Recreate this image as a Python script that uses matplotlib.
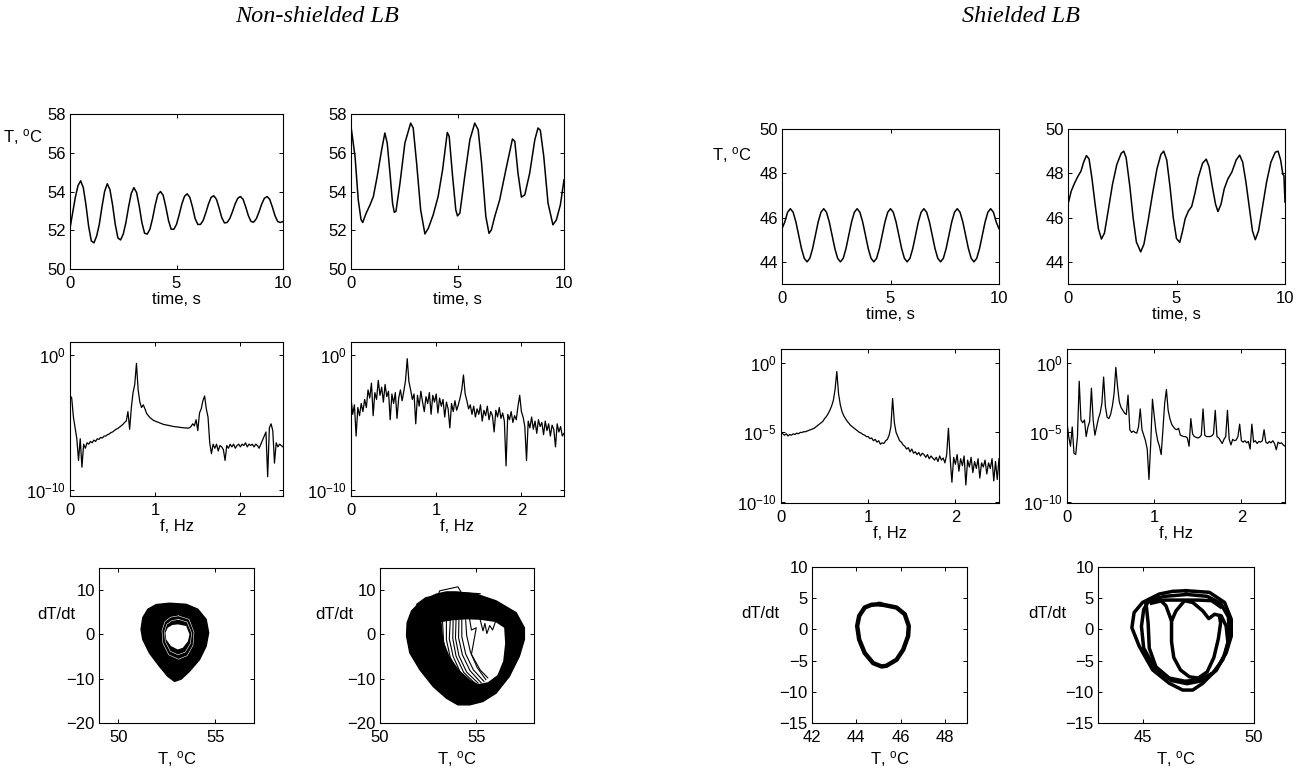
import numpy as np
import matplotlib
matplotlib.use("Agg")
import matplotlib.pyplot as plt
from matplotlib.ticker import NullLocator

plt.rcParams['font.family'] = ['Liberation Sans', 'DejaVu Sans']
plt.rcParams['mathtext.fontset'] = 'custom'
plt.rcParams['mathtext.rm'] = 'Liberation Sans'
plt.rcParams['mathtext.it'] = 'Liberation Sans:italic'
plt.rcParams['mathtext.bf'] = 'Liberation Sans:bold'
plt.rcParams['font.size'] = 12

# ---- time series (T, degC) ----
# non-shielded, periodic decaying, sampled every 0.125 s
T1 = [52.1, 52.9, 53.7, 54.3, 54.55, 54.2, 53.3, 52.2, 51.45, 51.35,
      51.7, 52.3, 53.2, 54.0, 54.4, 54.1, 53.3, 52.3, 51.6, 51.5,
      51.8, 52.4, 53.2, 53.9, 54.2, 53.95, 53.25, 52.4, 51.85, 51.8,
      52.05, 52.6, 53.3, 53.85, 54.0, 53.8, 53.2, 52.5, 52.05, 52.05,
      52.3, 52.8, 53.35, 53.75, 53.88, 53.7, 53.2, 52.6, 52.3, 52.3,
      52.5, 52.9, 53.35, 53.7, 53.78, 53.6, 53.15, 52.65, 52.38, 52.4,
      52.6, 52.95, 53.35, 53.65, 53.74, 53.6, 53.2, 52.75, 52.45, 52.42,
      52.6, 52.95, 53.35, 53.65, 53.74, 53.6, 53.2, 52.75, 52.45, 52.4,
      52.45]
# non-shielded, irregular
t2 = [0, 0.19, 0.34, 0.47, 0.55, 0.70, 0.89, 1.05, 1.23, 1.44,
      1.59, 1.70, 1.83, 1.95, 2.03, 2.11, 2.30, 2.53, 2.80, 2.92,
      3.08, 3.27, 3.47, 3.63, 3.86, 4.09, 4.30, 4.52, 4.61, 4.77,
      4.92, 5.0, 5.11, 5.34, 5.58, 5.81, 5.97, 6.13, 6.33, 6.48,
      6.59, 6.75, 6.98, 7.27, 7.58, 7.69, 7.84, 8.0, 8.16, 8.39,
      8.63, 8.78, 8.89, 9.05, 9.25, 9.48, 9.64, 9.83, 10.0]
T2 = [57.36, 55.8, 53.57, 52.55, 52.4, 52.85, 53.3, 53.74, 54.78, 56.16,
      57.02, 56.5, 54.95, 53.4, 52.93, 52.97, 54.43, 56.5, 57.53, 57.28,
      55.47, 53.05, 51.81, 52.1, 52.8, 53.74, 55.12, 57.05, 56.84, 54.78,
      53.05, 52.74, 52.88, 54.78, 56.67, 57.53, 57.19, 55.47, 52.71, 51.84,
      52.02, 52.71, 53.57, 55.12, 56.71, 56.59, 54.95, 53.71, 53.83, 54.95,
      56.67, 57.28, 57.16, 55.81, 53.4, 52.28, 52.53, 53.31, 54.6]
# shielded, periodic, 79 samples over 10 s
T3 = [45.5, 45.8, 46.24, 46.4, 46.24, 45.8, 45.2, 44.6, 44.16, 44.0, 44.16, 44.6,
      45.2, 45.8, 46.24, 46.4, 46.24, 45.8, 45.2, 44.6, 44.16, 44.0, 44.16, 44.6,
      45.2, 45.8, 46.24, 46.4, 46.24, 45.8, 45.2, 44.6, 44.16, 44.0, 44.16, 44.6,
      45.2, 45.8, 46.24, 46.4, 46.24, 45.8, 45.2, 44.6, 44.16, 44.0, 44.16, 44.6,
      45.2, 45.8, 46.24, 46.4, 46.24, 45.8, 45.2, 44.6, 44.16, 44.0, 44.16, 44.6,
      45.2, 45.8, 46.24, 46.4, 46.24, 45.8, 45.2, 44.6, 44.16, 44.0, 44.16, 44.6,
      45.2, 45.8, 46.24, 46.4, 46.24, 45.8, 45.5]
# shielded, irregular
t4 = [0, 0.15, 0.3, 0.45, 0.6, 0.72, 0.85, 0.97, 1.1, 1.25,
      1.4, 1.54, 1.68, 1.85, 2.05, 2.25, 2.45, 2.57, 2.68, 2.85,
      3.0, 3.15, 3.35, 3.5, 3.7, 3.9, 4.1, 4.28, 4.41, 4.55,
      4.7, 4.85, 5.0, 5.15, 5.28, 5.4, 5.55, 5.7, 5.85, 6.0,
      6.2, 6.37, 6.5, 6.65, 6.8, 6.91, 7.05, 7.2, 7.37, 7.55,
      7.75, 7.91, 8.05, 8.2, 8.35, 8.5, 8.63, 8.78, 8.95, 9.15,
      9.35, 9.55, 9.68, 9.8, 9.9, 9.95, 10.0]
T4 = [46.6, 47.2, 47.55, 47.85, 48.1, 48.5, 48.8, 48.65, 47.8, 46.6,
      45.5, 45.03, 45.3, 46.3, 47.5, 48.4, 48.9, 49.0, 48.7, 47.4,
      46.0, 44.9, 44.45, 44.8, 45.9, 47.1, 48.2, 48.85, 49.0, 48.6,
      47.4, 46.0, 45.05, 44.88, 45.4, 45.95, 46.3, 46.5, 47.1, 47.8,
      48.45, 48.64, 48.3, 47.4, 46.6, 46.27, 46.6, 47.3, 47.75, 48.05,
      48.6, 48.82, 48.5, 47.6, 46.5, 45.4, 45.0, 45.4, 46.4, 47.6,
      48.5, 48.95, 49.0, 48.6, 47.95, 47.9, 46.7]

# ---- spectra: log10 of power, every 0.02 Hz from 0 to 2.5 ----
S5 = [-3.0, -3.2, -4.6, -5.4, -6.2, -7.8, -6.2, -8.3, -6.6, -6.9,
      -6.5, -6.6, -6.4, -6.5, -6.3, -6.4, -6.2, -6.25, -6.1, -6.15,
      -6.0, -6.0, -5.9, -5.85, -5.75, -5.7, -5.6, -5.5, -5.45, -5.35,
      -5.25, -5.15, -5.0, -4.9, -4.2, -5.5, -3.9, -2.8, -2.2, -0.65,
      -2.6, -3.5, -3.9, -3.7, -4.0, -4.35, -4.5, -4.65, -4.75, -4.85,
      -4.9, -4.95, -5.0, -5.05, -5.1, -5.15, -5.17, -5.2, -5.22, -5.25,
      -5.28, -5.3, -5.32, -5.33, -5.35, -5.37, -5.38, -5.4, -5.4, -5.42,
      -5.4, -5.3, -5.1, -5.25, -4.8, -5.6, -4.3, -4.0, -3.4, -3.05,
      -4.0, -4.6, -6.5, -7.3, -6.6, -6.9, -6.6, -7.1, -6.7, -6.8,
      -7.0, -7.8, -6.7, -6.9, -6.6, -6.8, -6.6, -6.9, -6.7, -6.6,
      -6.8, -6.6, -6.7, -6.5, -6.8, -6.6, -6.7, -6.6, -6.8, -6.6,
      -6.7, -6.9, -6.6, -6.3, -6.0, -5.7, -9.0, -5.4, -5.1, -5.6,
      -8.0, -6.5, -6.8, -6.6, -6.7, -6.8]
S6 = [-3.2, -4.4, -3.7, -6.0, -3.9, -4.5, -3.6, -4.2, -3.3, -3.9,
      -2.6, -3.2, -2.1, -4.5, -2.8, -3.3, -1.9, -3.0, -2.4, -3.5,
      -2.2, -3.1, -2.7, -4.8, -2.9, -3.6, -2.8, -4.7, -3.2, -2.6,
      -3.4, -2.7, -1.9, -0.3, -2.0, -2.6, -3.3, -2.9, -5.1, -3.0,
      -3.8, -2.7, -3.5, -4.2, -3.1, -3.6, -2.8, -4.4, -3.0, -3.5,
      -2.9, -4.3, -3.2, -3.8, -3.3, -4.6, -3.5, -4.0, -5.4, -3.6,
      -4.2, -3.4, -4.1, -3.7, -3.2, -2.6, -1.5, -2.9, -3.4, -4.0,
      -3.7, -4.4, -3.8, -4.6, -4.0, -4.4, -3.7, -4.9, -4.1, -4.5,
      -3.8, -4.8, -4.2, -4.5, -5.7, -4.1, -4.6, -3.9, -4.7, -4.3,
      -4.9, -8.2, -4.4, -4.8, -4.2, -5.0, -4.5, -4.8, -3.8, -3.0,
      -4.2, -4.6, -5.3, -7.8, -4.9, -5.4, -4.6, -5.5, -4.9, -5.8,
      -4.8, -5.3, -5.0, -5.9, -4.9, -5.6, -5.1, -6.0, -5.2, -5.5,
      -6.8, -5.1, -5.7, -5.3, -6.0, -5.8]
S7 = [-4.9, -5.1, -5.2, -5.1, -5.25, -5.15, -5.2, -5.1, -5.15, -5.05,
      -5.1, -5.0, -5.0, -4.95, -4.95, -4.9, -4.85, -4.8, -4.75, -4.7,
      -4.6, -4.5, -4.4, -4.3, -4.2, -4.0, -3.85, -3.65, -3.4, -3.1,
      -2.7, -1.9, -0.6, -2.2, -3.0, -3.5, -3.8, -4.0, -4.2, -4.35,
      -4.5, -4.6, -4.7, -4.8, -4.9, -5.0, -5.05, -5.15, -5.2, -5.3,
      -5.3, -5.45, -5.4, -5.6, -5.5, -5.7, -5.6, -5.85, -5.75, -5.8,
      -5.6, -5.5, -5.2, -4.6, -2.55, -4.3, -5.0, -5.3, -5.6, -5.7,
      -5.9, -6.0, -6.2, -6.1, -6.4, -6.2, -6.5, -6.4, -6.6, -6.45,
      -6.7, -6.5, -6.6, -6.8, -6.6, -6.9, -6.7, -6.85, -7.0, -6.8,
      -7.1, -6.7, -7.0, -6.85, -7.2, -6.6, -4.7, -6.9, -8.6, -6.8,
      -7.3, -6.6, -7.8, -6.9, -7.4, -6.7, -8.8, -7.0, -7.5, -6.8,
      -7.9, -7.1, -7.6, -6.9, -8.3, -7.2, -7.5, -7.0, -8.0, -7.2,
      -7.6, -6.9, -8.5, -7.1, -8.4, -6.9]
S8 = [-4.3, -5.3, -6.0, -4.6, -6.5, -6.6, -5.3, -1.3, -4.1, -4.3,
      -4.1, -5.3, -4.6, -4.2, -1.8, -4.1, -5.2, -4.6, -4.0, -3.6,
      -2.9, -1.0, -3.1, -3.9, -4.0, -3.7, -3.1, -2.2, -0.3, -1.7,
      -2.8, -3.2, -3.4, -3.6, -3.7, -2.3, -4.8, -5.0, -4.9, -5.0,
      -5.05, -4.6, -3.3, -4.8, -5.2, -5.6, -6.2, -8.4, -5.8, -2.6,
      -3.8, -4.9, -5.6, -6.0, -6.6, -4.8, -2.9, -1.9, -3.4, -4.0,
      -4.4, -4.6, -4.75, -4.8, -4.7, -5.2, -5.25, -5.3, -5.3, -5.4,
      -6.0, -4.0, -5.1, -5.3, -5.35, -5.4, -5.35, -5.2, -3.3, -5.2,
      -5.3, -5.3, -5.3, -5.25, -5.1, -3.4, -5.3, -5.4, -5.6, -5.8,
      -5.5, -5.3, -3.4, -5.5, -5.9, -5.5, -5.6, -5.55, -5.3, -4.4,
      -5.6, -5.7, -5.6, -5.75, -5.65, -6.2, -4.4, -5.7, -5.6, -5.8,
      -5.65, -5.7, -5.6, -4.8, -5.7, -5.8, -5.65, -5.75, -5.6, -5.8,
      -6.25, -5.7, -5.8, -5.75, -5.9, -6.0]

# ---- phase portraits (T, dT/dt) ----
out9_T = [52.64, 53.5, 54.1, 54.53, 54.66, 54.53, 54.19, 53.67, 53.24, 52.9,
          52.55, 52.12, 51.6, 51.26, 51.17, 51.26, 51.52, 51.95]
out9_D = [7.05, 6.8, 5.7, 3.4, 0.38, -2.65, -5.68, -8.33, -10.1, -10.6,
          -9.47, -7.2, -4.17, -1.14, 1.14, 3.79, 5.68, 6.74]
hole9_T = [53.07, 53.5, 53.67, 53.59, 53.33, 53.07, 52.72, 52.47, 52.43, 52.55, 52.78]
hole9_D = [2.27, 1.9, 0, -1.52, -3.0, -3.4, -2.65, -1.14, 0.38, 1.52, 2.12]
ring9a_T = [53.1, 53.65, 53.9, 53.85, 53.55, 53.1, 52.6, 52.3, 52.25, 52.4, 52.7, 53.1]
ring9a_D = [4.2, 3.4, 0.5, -2.5, -4.8, -5.6, -4.6, -2.0, 0.8, 2.9, 3.9, 4.2]
ring9b_T = [53.1, 53.55, 53.78, 53.72, 53.45, 53.08, 52.68, 52.42, 52.38, 52.5, 52.75, 53.1]
ring9b_D = [3.4, 2.8, 0.3, -2.0, -4.0, -4.6, -3.8, -1.6, 0.6, 2.3, 3.1, 3.4]

out10_T = [53.97, 55.0, 56.03, 57.07, 57.5, 57.5, 57.24, 56.72, 56.03, 55.34, 54.66, 54.05,
           53.45, 52.76, 52.07, 51.55, 51.38, 51.41, 51.64, 51.98, 52.33, 52.93, 53.45]
out10_D = [9.6, 9.1, 7.58, 4.92, 1.5, -1.14, -4.92, -9.47, -13.26, -15.15, -15.9, -15.9,
           -14.4, -11.74, -7.95, -4.17, -0.38, 2.65, 5.3, 6.8, 7.95, 9.1, 9.6]
hole10_T = [53.2, 53.8, 54.5, 55.2, 56.0, 56.45, 56.5, 56.4, 56.1, 55.6, 55.1, 54.7, 54.1, 53.6, 53.3]
hole10_D = [2.8, 3.2, 3.4, 3.3, 2.8, 1.5, -2.0, -6.0, -9.2, -10.8, -11.2, -10.3, -8.0, -4.8, -1.5]
streaks10_T = [[53.25, 53.3, 53.5, 53.9, 54.4],
               [53.45, 53.45, 53.65, 54.05, 54.6],
               [53.65, 53.6, 53.8, 54.2, 54.8],
               [53.8, 53.78, 53.95, 54.35, 54.95],
               [53.95, 53.92, 54.1, 54.5, 55.1],
               [54.1, 54.08, 54.28, 54.68, 55.25],
               [54.25, 54.25, 54.45, 54.85, 55.4],
               [54.45, 54.5, 54.7, 55.05, 55.5],
               [54.65, 54.75, 55.0, 54.75, 55.2, 55.6],
               [55.2, 55.35, 55.45, 55.55, 55.7, 55.85, 56.0],
               [51.9, 52.38, 53.0, 53.1, 54.05, 54.22, 55.2]]
streaks10_D = [[2.9, -1.5, -5.5, -9.0, -10.8],
               [3.0, -1.2, -5.2, -8.9, -11.0],
               [3.1, -1.0, -5.0, -8.8, -11.2],
               [3.1, -0.9, -4.9, -8.6, -11.1],
               [3.2, -0.8, -4.8, -8.5, -11.0],
               [3.2, -0.7, -4.6, -8.2, -10.9],
               [3.3, -0.5, -4.4, -8.0, -10.6],
               [3.3, -0.2, -4.0, -7.5, -10.2],
               [3.5, 1.0, 1.5, -4.5, -8.0, -9.8],
               [3.4, 0.8, 2.5, 0.2, 2.0, 1.0, 2.9],
               [6.8, 8.33, 8.7, 9.85, 10.75, 9.47, 9.2]]

loop11_T = [45.06, 45.82, 46.19, 46.37, 46.34, 46.12, 45.82, 45.36, 45.14,
            44.76, 44.38, 44.13, 44.04, 44.13, 44.38, 44.68, 45.06]
loop11_D = [4.05, 3.5, 2.43, 0.54, -1.08, -3.24, -4.86, -5.83, -5.94,
            -5.4, -3.78, -1.62, 0.54, 2.16, 3.51, 3.94, 4.05]

loops12_T = [[46.95, 48.0, 48.68, 48.98, 48.98, 48.75, 48.3, 47.7, 47.25, 46.8,
              46.2, 45.45, 44.85, 44.52, 44.62, 45.0, 45.75, 46.35, 46.95],
             [45.3, 46.0, 47.0, 47.9, 48.5, 48.85, 48.9, 48.7, 48.3, 47.7,
              47.0, 46.3, 45.6, 45.05, 44.95, 45.05, 45.3],
             [45.15, 45.75, 46.05, 46.3, 46.5, 46.88, 47.25, 47.7, 47.97, 48.23, 48.53,
              48.75, 48.83, 48.6, 48.15, 47.55, 46.9, 46.2, 45.6, 45.3, 45.25, 45.15],
             [46.3, 46.3, 46.4, 46.7, 47.1, 47.5, 47.9, 48.2, 48.4, 48.5, 48.45],
             [45.4, 46.0, 47.5, 48.1, 48.5]]
loops12_D = [[6.2, 5.94, 4.32, 1.62, -1.08, -3.78, -6.48, -8.64, -9.72, -9.72,
              -8.64, -6.48, -2.7, 0.27, 2.7, 4.32, 5.67, 6.1, 6.2],
             [4.7, 5.3, 5.6, 5.3, 4.2, 2.0, -1.0, -4.0, -6.6, -8.2,
              -8.7, -8.2, -6.5, -3.0, 0.5, 3.2, 4.7],
             [4.32, 4.86, 3.78, 1.35, 2.97, 4.59, 4.32, 2.97, 1.73, 2.43, 2.16,
              0.54, -2.16, -4.86, -7.0, -8.1, -8.3, -7.8, -6.0, -3.0, 1.0, 4.32],
             [1.35, -2.0, -4.5, -6.5, -7.6, -7.8, -6.8, -4.5, -1.5, 1.0, 2.2],
             [4.2, 4.7, 4.7, 4.6, 3.6]]

TLAB = r'T, $^{\mathrm{o}}$C'

W, H = 1299, 771
fig = plt.figure(figsize=(W / 100, H / 100), dpi=100)


def px_axes(x0, y0, x1, y1):
    ax = fig.add_axes([x0 / W, 1 - y1 / H, (x1 - x0) / W, (y1 - y0) / H])
    ax.tick_params(direction='in', top=True, right=True, length=3, width=0.7, labelsize=12)
    ax.tick_params(axis='x', pad=5)
    ax.tick_params(axis='y', pad=3)
    for s in ax.spines.values():
        s.set_linewidth(0.8)
    return ax


def time_panel(ax, t, T, ylim, yticks, ylab=None, lab_x=-0.13, lab_y=0.85):
    ax.plot(t, T, color='k', lw=1.1)
    ax.set_xlim(0, 10)
    ax.set_xticks([0, 5, 10])
    ax.set_ylim(*ylim)
    ax.set_yticks(yticks)
    ax.set_xlabel('time, s', labelpad=1)
    if ylab:
        ax.text(lab_x, lab_y, ylab, transform=ax.transAxes, ha='right', va='center')


def spec_panel(ax, S, ylim, yticks):
    f = np.linspace(0, 2.5, len(S))
    ax.semilogy(f, 10.0 ** np.array(S), color='k', lw=0.9)
    ax.set_xlim(0, 2.5)
    ax.set_xticks([0, 1, 2])
    ax.set_ylim(10 ** ylim[0], 10 ** ylim[1])
    ax.set_yticks(yticks)
    ax.yaxis.set_minor_locator(NullLocator())
    ax.set_xlabel('f, Hz', labelpad=1)


def phase_labels(ax, lab_x):
    ax.set_xlabel(TLAB, labelpad=3)
    ax.text(lab_x, 0.70, 'dT/dt', transform=ax.transAxes, ha='right', va='center')


# row 1: time series
ax = px_axes(70, 114, 283, 269)
time_panel(ax, np.linspace(0, 10, len(T1)), T1, (50, 58), [50, 52, 54, 56, 58], TLAB, -0.127, 0.85)
ax = px_axes(351, 114, 564, 269)
time_panel(ax, t2, T2, (50, 58), [50, 52, 54, 56, 58])
ax = px_axes(782, 129, 999, 284)
time_panel(ax, np.linspace(0, 10, len(T3)), T3, (43, 50), [44, 46, 48, 50], TLAB, -0.138, 0.83)
ax = px_axes(1068, 129, 1285, 284)
time_panel(ax, t4, T4, (43, 50), [44, 46, 48, 50])

# row 2: spectra
ax = px_axes(70, 342, 283, 496)
spec_panel(ax, S5, (-10.42, 0.93), [1e-10, 1e0])
ax = px_axes(351, 342, 564, 496)
spec_panel(ax, S6, (-10.42, 0.93), [1e-10, 1e0])
ax = px_axes(781, 349, 999, 503)
spec_panel(ax, S7, (-10.1, 1.03), [1e-10, 1e-5, 1e0])
ax = px_axes(1067, 349, 1285, 503)
spec_panel(ax, S8, (-10.1, 1.03), [1e-10, 1e-5, 1e0])

# row 3: phase portraits
ax = px_axes(99, 568, 254, 723)
ax.fill(out9_T, out9_D, color='k', lw=1)
ax.plot(ring9a_T, ring9a_D, color='white', lw=0.4)
ax.plot(ring9b_T, ring9b_D, color='white', lw=0.4)
ax.fill(hole9_T, hole9_D, color='white', lw=0)
ax.set_xlim(49, 57)
ax.set_xticks([50, 55])
ax.set_ylim(-20, 15)
ax.set_yticks([-20, -10, 0, 10])
phase_labels(ax, -0.155)

ax = px_axes(380, 568, 534, 723)
ax.fill(out10_T, out10_D, color='k', lw=1)
ax.fill(hole10_T, hole10_D, color='white', lw=0)
for st_T, st_D in zip(streaks10_T, streaks10_D):
    ax.plot(st_T, st_D, color='k', lw=0.8)
ax.set_xlim(50, 58)
ax.set_xticks([50, 55])
ax.set_ylim(-20, 15)
ax.set_yticks([-20, -10, 0, 10])
phase_labels(ax, -0.175)

ax = px_axes(812, 567, 967, 723)
ax.plot(loop11_T, loop11_D, color='k', lw=3.2)
ax.set_xlim(42, 49)
ax.set_xticks([42, 44, 46, 48])
ax.set_ylim(-15, 10)
ax.set_yticks([-15, -10, -5, 0, 5, 10])
phase_labels(ax, -0.213)

ax = px_axes(1098, 567, 1254, 723)
for lp_T, lp_D in zip(loops12_T, loops12_D):
    ax.plot(lp_T, lp_D, color='k', lw=2.5)
ax.set_xlim(43, 50)
ax.set_xticks([45, 50])
ax.set_ylim(-15, 10)
ax.set_yticks([-15, -10, -5, 0, 5, 10])
phase_labels(ax, -0.2)

title_font = dict(family=['Liberation Serif', 'DejaVu Serif'], style='italic', fontsize=17.5,
                  ha='center', va='center')
fig.text(317 / W, 1 - 16 / H, 'Non-shielded LB', **title_font)
fig.text(1021 / W, 1 - 16 / H, 'Shielded LB', **title_font)

fig.savefig('out.png', dpi=100)
